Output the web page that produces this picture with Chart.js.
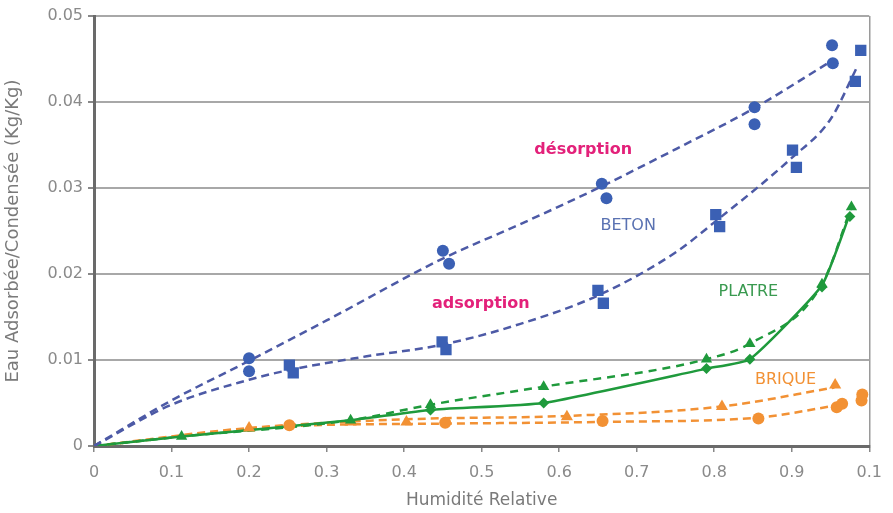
<!DOCTYPE html>
<html>
<head>
<meta charset="utf-8">
<script src="https://cdn.jsdelivr.net/npm/chart.js@4.4.1/dist/chart.umd.min.js"></script>
<style>
  html, body { margin: 0; padding: 0; background: #fff; }
  #wrap { width: 893px; height: 513px; }
</style>
</head>
<body>
<div id="wrap"><canvas id="isoChart"></canvas></div>
<script>
// Isothermes de sorption : beton, platre, brique

// TICKS
const xTicks = [0, 0.1, 0.2, 0.3, 0.4, 0.5, 0.6, 0.7, 0.8, 0.9, 1];
const xTickLabels = ["0", "0.1", "0.2", "0.3", "0.4", "0.5", "0.6", "0.7", "0.8", "0.9", "0.1"];
const yTickLabels = ["0", "0.01", "0.02", "0.03", "0.04", "0.05"];

// BETON - desorption (ronds) + courbe
const betonDesX = [0.2, 0.2, 0.45, 0.458, 0.655, 0.661, 0.852, 0.852, 0.952, 0.953];
const betonDesY = [0.0102, 0.0087, 0.0227, 0.0212, 0.0305, 0.0288, 0.0394, 0.0374, 0.0466, 0.0445];
const betonDesFitX = [0, 0.1, 0.2, 0.3, 0.45, 0.55, 0.655, 0.75, 0.85, 0.95];
const betonDesFitY = [0, 0.0053, 0.0099, 0.0146, 0.0218, 0.0258, 0.0302, 0.0345, 0.0392, 0.0447];

// BETON - adsorption (carres) + courbe
const betonAdsX = [0.252, 0.257, 0.449, 0.454, 0.65, 0.657, 0.802, 0.807, 0.901, 0.906, 0.989, 0.982];
const betonAdsY = [0.0094, 0.0085, 0.0121, 0.0112, 0.0181, 0.0166, 0.0269, 0.0255, 0.0344, 0.0324, 0.046, 0.0424];
const betonAdsFitX = [0, 0.1, 0.2, 0.25, 0.35, 0.45, 0.55, 0.65, 0.75, 0.8, 0.9, 0.95, 0.985];
const betonAdsFitY = [0, 0.0048, 0.0077, 0.0088, 0.0104, 0.0118, 0.0142, 0.0175, 0.0225, 0.026, 0.0335, 0.038, 0.0442];

// PLATRE
const platreSolidX = [0, 0.113, 0.331, 0.434, 0.58, 0.79, 0.846, 0.939, 0.975];
const platreSolidY = [0, 0.0011, 0.003, 0.0042, 0.005, 0.009, 0.0101, 0.0187, 0.027];
const platreDashX = [0, 0.113, 0.331, 0.434, 0.58, 0.79, 0.846, 0.939, 0.977];
const platreDashY = [0, 0.0011, 0.003, 0.0048, 0.0069, 0.0101, 0.0119, 0.0188, 0.0278];
const platreTriX = [0.113, 0.331, 0.434, 0.58, 0.79, 0.846, 0.939, 0.977];
const platreTriY = [0.0011, 0.003, 0.0048, 0.0069, 0.0101, 0.0119, 0.0188, 0.0278];
const platreDiaX = [0.434, 0.58, 0.79, 0.846, 0.939, 0.975];
const platreDiaY = [0.0042, 0.005, 0.009, 0.0101, 0.0185, 0.0267];

// BRIQUE
const briqueTriX = [0.2, 0.331, 0.403, 0.61, 0.81, 0.956];
const briqueTriY = [0.0021, 0.0028, 0.0028, 0.0034, 0.0046, 0.0071];
const briqueCircX = [0.252, 0.453, 0.656, 0.857, 0.958, 0.965, 0.99, 0.991];
const briqueCircY = [0.0024, 0.0027, 0.0029, 0.0032, 0.0045, 0.0049, 0.0053, 0.006];
const briqueUpFitX = [0, 0.2, 0.4, 0.61, 0.81, 0.955];
const briqueUpFitY = [0, 0.0021, 0.0031, 0.0035, 0.0046, 0.0068];
const briqueLowFitX = [0, 0.25, 0.45, 0.656, 0.857, 0.95];
const briqueLowFitY = [0, 0.0023, 0.0026, 0.0028, 0.0033, 0.0046];

const pts = (xs, ys) => xs.map((x, i) => ({ x: x, y: ys[i] }));

const BLUE = "#3b60b4";
const BLUE_LINE = "#4d5aa6";
const GREEN = "#1f9a3c";
const ORANGE = "#f29134";
const PINK = "#e3217a";
const GREY = "#8a8a8a";
const FONT = "DejaVu Sans";

function markers(xs, ys, color, style, r) {
  return {
    data: pts(xs, ys),
    showLine: false,
    pointStyle: style,
    pointRadius: r,
    pointBackgroundColor: color,
    pointBorderColor: color,
    pointBorderWidth: 0,
    order: 0
  };
}

function curve(xs, ys, color, dash, tension) {
  return {
    data: pts(xs, ys),
    showLine: true,
    borderColor: color,
    borderWidth: 2.5,
    borderDash: dash,
    pointRadius: 0,
    cubicInterpolationMode: tension ? "default" : "monotone",
    tension: tension || 0,
    order: 1
  };
}

// text labels on the plot
const notes = [
  { text: "désorption", x: 0.631, y: 0.0344, color: PINK, bold: true, size: 16 },
  { text: "BETON", x: 0.689, y: 0.0256, color: "#5a72b2", bold: false, size: 16 },
  { text: "adsorption", x: 0.499, y: 0.0165, color: PINK, bold: true, size: 16 },
  { text: "PLATRE", x: 0.844, y: 0.0179, color: "#3a9a50", bold: false, size: 16 },
  { text: "BRIQUE", x: 0.892, y: 0.0077, color: ORANGE, bold: false, size: 16 }
];

const notesPlugin = {
  id: "notes",
  afterDatasetsDraw(chart) {
    const { ctx, scales } = chart;
    ctx.save();
    ctx.textAlign = "center";
    ctx.textBaseline = "middle";
    notes.forEach(n => {
      ctx.font = (n.bold ? "bold " : "") + n.size + "px '" + FONT + "'";
      ctx.fillStyle = n.color;
      ctx.fillText(n.text, scales.x.getPixelForValue(n.x), scales.y.getPixelForValue(n.y));
    });
    ctx.restore();
  }
};

new Chart(document.getElementById("isoChart"), {
  type: "scatter",
  data: {
    datasets: [
      markers(betonDesX, betonDesY, BLUE, "circle", 6),
      markers(betonAdsX, betonAdsY, BLUE, "rect", 8),
      markers(platreTriX, platreTriY, GREEN, "triangle", 6.5),
      markers(platreDiaX, platreDiaY, GREEN, "rectRot", 5.5),
      markers(briqueTriX, briqueTriY, ORANGE, "triangle", 7),
      markers(briqueCircX, briqueCircY, ORANGE, "circle", 6),
      curve(betonDesFitX, betonDesFitY, BLUE_LINE, [8, 5]),
      curve(betonAdsFitX, betonAdsFitY, BLUE_LINE, [8, 5]),
      curve(platreSolidX, platreSolidY, GREEN, [], 0.15),
      curve(platreDashX, platreDashY, GREEN, [8, 6]),
      curve(briqueUpFitX, briqueUpFitY, ORANGE, [8, 5]),
      curve(briqueLowFitX, briqueLowFitY, ORANGE, [8, 5])
    ]
  },
  options: {
    responsive: true,
    maintainAspectRatio: false,
    animation: false,
    layout: { autoPadding: false, padding: { top: 16, right: 10, bottom: 0, left: 0 } },
    plugins: { legend: { display: false }, tooltip: { enabled: false } },
    scales: {
      x: {
        type: "linear",
        min: 0,
        max: 1,
        afterFit: s => { s.height = 67; },
        afterBuildTicks: s => { s.ticks = xTicks.map(v => ({ value: v })); },
        ticks: {
          padding: 11,
          color: GREY,
          font: { family: FONT, size: 16 },
          callback: (v, i) => xTickLabels[i]
        },
        grid: {
          drawOnChartArea: true,
          color: c => (c.tick && c.tick.value === 1 ? "#9a9a9a" : "rgba(0,0,0,0)"),
          lineWidth: 1.5,
          tickColor: "#888",
          tickLength: 6
        },
        border: { color: "#6a6a6a", width: 3 },
        title: {
          display: true,
          text: "Humidité Relative",
          color: "#7a7a7a",
          font: { family: FONT, size: 17 },
          padding: { top: 0, bottom: 2 }
        }
      },
      y: {
        min: 0,
        max: 0.05,
        afterFit: s => { s.width = 94; },
        afterBuildTicks: s => { s.ticks = yTickLabels.map((t, i) => ({ value: i * 0.01 })); },
        ticks: {
          padding: 5,
          color: GREY,
          font: { family: FONT, size: 16 },
          callback: (v, i) => yTickLabels[i]
        },
        grid: {
          color: "#a8a8a8",
          lineWidth: 2,
          tickColor: "#888",
          tickLength: 6
        },
        border: { color: "#6a6a6a", width: 3 },
        title: {
          display: true,
          text: "Eau Adsorbée/Condensée (Kg/Kg)",
          color: "#7a7a7a",
          font: { family: FONT, size: 18 },
          padding: { top: 3, bottom: 0 }
        }
      }
    }
  },
  plugins: [notesPlugin]
});
</script>
</body>
</html>
